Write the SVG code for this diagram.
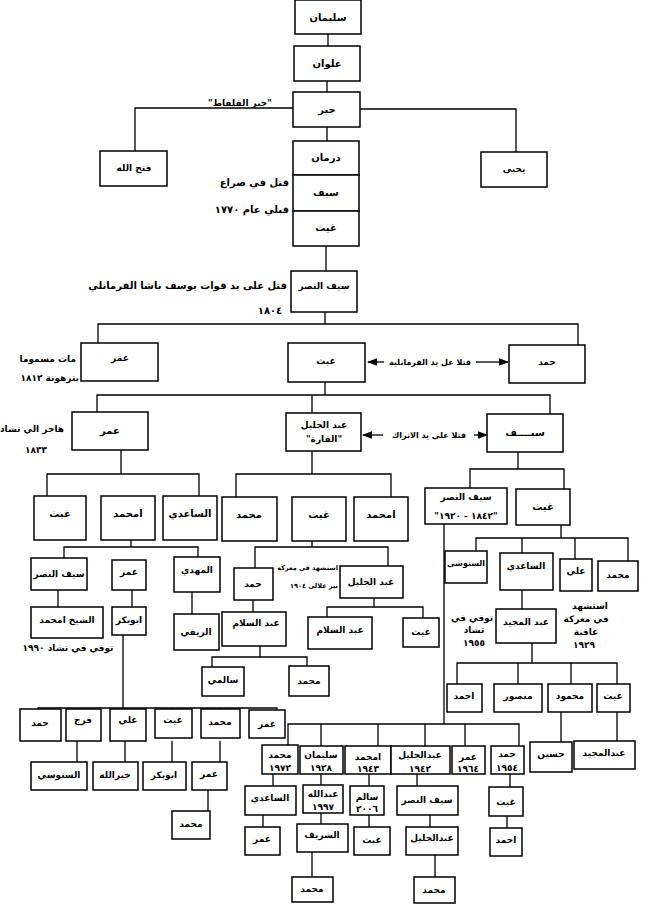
<svg xmlns="http://www.w3.org/2000/svg" width="650" height="907" viewBox="0 0 650 907">
<defs>
<style>
rect{fill:#fff;stroke:#000;stroke-width:1.5}
text{font-family:"DejaVu Sans",sans-serif;font-weight:bold;font-size:9px;fill:#000;text-anchor:middle}
.b{font-size:10px}
.e{text-anchor:end}
.s{font-size:8px}
.t{font-size:6.5px}
.c path,.c line{stroke:#000;stroke-width:1.3;fill:none}
</style>
<marker id="ar" markerWidth="8" markerHeight="6" refX="7" refY="3" orient="auto"><path d="M0,0L8,3L0,6z" fill="#000"/></marker>
</defs>
<rect x="0" y="0" width="650" height="907" style="stroke:none"/>
<g class="c">
<path d="M328,34V46M327,81V92M327,127V141M326,246V271"/>
<path d="M293,108H135V151M360,109H516V152"/>
<path d="M325,312V324M98,343V324H578V345"/>
<path d="M325,382V395M97,412V395H550V414M312,395V413"/>
<line x1="384" y1="362" x2="368" y2="362" marker-end="url(#ar)"/><line x1="476" y1="362" x2="508" y2="362" marker-end="url(#ar)"/>
<line x1="383" y1="435" x2="363" y2="435" marker-end="url(#ar)"/><line x1="474" y1="435" x2="487" y2="435" marker-end="url(#ar)"/>
<path d="M121,450V474M47,496V474H199V496"/>
<path d="M312,451V474M236,497V474H391V497"/>
<path d="M518,452V469M470,488V469H564V489"/>
<path d="M131,540V547M64,558V547H198V557M58,590V607M132,590V607M192,592V614"/>
<path d="M312,541V547M255,568V547H388V566M253,600V612M374,598V607M327,617V607H423V618"/>
<path d="M260,646V657M212,667V657H307V666"/>
<path d="M123,635V708M38,709V708H277V710M77,708V709M125,708V709M172,708V709M220,708V709"/>
<path d="M77,741V762M125,741V762M172,741V762M220,741V762M208,790V811"/>
<path d="M561,525V538M476,551V538H628V561M522,538V553M575,538V559M522,590V609"/>
<path d="M532,643V663M457,684V663H617V684M518,663V684M571,663V684M561,712V742M617,712V741"/>
<path d="M444,524V724M288,746V724H519V746M321,724V746M378,724V746M425,724V746M465,724V746"/>
<path d="M273,774V786M263,815V827M321,774V785M321,813V824M312,852V877M369,774V786M369,815V827M417,774V786M430,815V827M435,855V877M510,774V787M507,816V828"/>
</g>
<g id="n1"><rect x="295" y="0" width="66" height="34"/><text class="b" x="328" y="21">سليمان</text></g>
<g id="n2"><rect x="294" y="46" width="66" height="35"/><text class="b" x="327" y="67">علوان</text></g>
<g id="n3"><rect x="293" y="92" width="67" height="35"/><text class="b" x="327" y="113">جبر</text></g>
<text x="240" y="106">"جبر القلفاط"</text>
<g id="n4"><rect x="100" y="151" width="67" height="35"/><text x="134" y="171">فتح الله</text></g>
<g id="n5"><rect x="481" y="152" width="66" height="35"/><text x="514" y="172">يحيى</text></g>
<g id="n6"><rect x="293" y="141" width="66" height="34"/><text class="b" x="326" y="161">درمان</text></g>
<g id="n7"><rect x="293" y="175" width="66" height="36"/><text class="b" x="326" y="196">سيف</text></g>
<g id="n8"><rect x="293" y="211" width="66" height="35"/><text class="b" x="326" y="231">غيث</text></g>
<text class="b e" x="289" y="186">قتل في صراع</text>
<text class="b e" x="289" y="213">قبلي عام ١٧٧٠</text>
<g id="n9"><rect x="291" y="271" width="66" height="41"/><text x="324" y="289">سيف النصر</text></g>
<text class="b e" x="287" y="289">قتل على يد قوات يوسف باشا القرمانلي</text>
<text class="b" x="270" y="314">١٨٠٤</text>
<g id="n10"><rect x="81" y="343" width="77" height="38"/><text x="120" y="361">عمر</text></g>
<g id="n11"><rect x="288" y="343" width="77" height="39"/><text x="326" y="364">غيث</text></g>
<g id="n12"><rect x="509" y="345" width="76" height="38"/><text x="547" y="365">حمد</text></g>
<text class="s" x="430" y="365">قتلا عل يد القرمانلية</text>
<text class="e" x="76" y="362">مات مسموما</text>
<text class="e" x="79" y="381">بترهونة ١٨١٢</text>
<g id="n13"><rect x="72" y="412" width="76" height="38"/><text class="b" x="110" y="434">عمر</text></g>
<text class="e" x="64" y="432">هاجر الي تشاد</text>
<text x="36" y="453">١٨٣٣</text>
<g id="n14"><rect x="286" y="413" width="75" height="38"/><text x="324" y="428">عبد الجليل</text><text x="324" y="442">"القارة"</text></g>
<g id="n15"><rect x="487" y="414" width="76" height="38"/><text class="b" x="525" y="436">سيــــف</text></g>
<text class="s" x="429" y="438">قتلا علي يد الاتراك</text>
<g id="n16"><rect x="34" y="496" width="52" height="44"/><text class="b" x="60" y="517">غيث</text></g>
<g id="n17"><rect x="101" y="496" width="54" height="44"/><text class="b" x="128" y="517">امحمد</text></g>
<g id="n18"><rect x="163" y="496" width="54" height="44"/><text class="b" x="190" y="517">الساعدي</text></g>
<g id="n19"><rect x="222" y="497" width="55" height="44"/><text class="b" x="249" y="518">محمد</text></g>
<g id="n20"><rect x="292" y="497" width="54" height="44"/><text class="b" x="319" y="518">غيث</text></g>
<g id="n21"><rect x="354" y="497" width="54" height="44"/><text class="b" x="381" y="518">امحمد</text></g>
<g id="n22"><rect x="425" y="488" width="82" height="36"/><text x="466" y="500">سيف النصر</text><text x="466" y="519">"١٨٤٢ - ١٩٢٠"</text></g>
<g id="n23"><rect x="516" y="489" width="54" height="36"/><text class="b" x="543" y="510">غيث</text></g>
<g id="n24"><rect x="31" y="558" width="56" height="32"/><text x="59" y="577">سيف النصر</text></g>
<g id="n25"><rect x="112" y="560" width="34" height="30"/><text x="129" y="575">عمر</text></g>
<g id="n26"><rect x="174" y="557" width="46" height="35"/><text x="197" y="573">المهدي</text></g>
<g id="n27"><rect x="31" y="607" width="72" height="31"/><text x="67" y="623">الشيخ امحمد</text></g>
<text x="68" y="651">توفي في تشاد ١٩٩٠</text>
<g id="n28"><rect x="112" y="607" width="34" height="28"/><text x="129" y="623">ابوبكر</text></g>
<g id="n29"><rect x="174" y="614" width="45" height="36"/><text x="196" y="635">الريفي</text></g>
<g id="n30"><rect x="234" y="568" width="39" height="32"/><text x="253" y="587">حمد</text></g>
<g id="n31"><rect x="340" y="566" width="63" height="32"/><text x="371" y="585">عبد الجليل</text></g>
<text class="t e" x="338" y="570">استشهد في معركة</text>
<text class="t e" x="338" y="588">بير علالي ١٩٠٤</text>
<g id="n32"><rect x="222" y="612" width="64" height="34"/><text x="256" y="626">عبد السلام</text></g>
<g id="n33"><rect x="308" y="617" width="64" height="32"/><text x="340" y="633">عبد السلام</text></g>
<g id="n34"><rect x="403" y="618" width="36" height="29"/><text x="421" y="635">غيث</text></g>
<g id="n35"><rect x="202" y="667" width="42" height="29"/><text x="223" y="683">سالمي</text></g>
<g id="n36"><rect x="289" y="666" width="40" height="30"/><text x="309" y="684">محمد</text></g>
<g id="n37"><rect x="20" y="709" width="41" height="32"/><text x="40" y="726">حمد</text></g>
<g id="n38"><rect x="66" y="709" width="35" height="32"/><text x="83" y="723">فرج</text></g>
<g id="n39"><rect x="110" y="709" width="36" height="32"/><text x="128" y="723">علي</text></g>
<g id="n40"><rect x="155" y="709" width="37" height="29"/><text x="173" y="723">غيث</text></g>
<g id="n41"><rect x="201" y="709" width="39" height="29"/><text x="220" y="725">محمد</text></g>
<g id="n42"><rect x="249" y="710" width="36" height="28"/><text x="267" y="727">عمر</text></g>
<g id="n43"><rect x="31" y="762" width="56" height="28"/><text x="59" y="778">السنوسي</text></g>
<g id="n44"><rect x="93" y="762" width="45" height="28"/><text x="115" y="778">خيرالله</text></g>
<g id="n45"><rect x="143" y="762" width="43" height="28"/><text x="164" y="778">ابوبكر</text></g>
<g id="n46"><rect x="192" y="762" width="35" height="28"/><text x="209" y="777">عمر</text></g>
<g id="n47"><rect x="172" y="811" width="38" height="28"/><text x="191" y="827">محمد</text></g>
<g id="n48"><rect x="445" y="551" width="42" height="32"/><text class="s" x="466" y="566">السنوسي</text></g>
<g id="n49"><rect x="500" y="553" width="53" height="37"/><text x="526" y="569">الساعدي</text></g>
<g id="n50"><rect x="560" y="559" width="32" height="32"/><text x="576" y="574">علي</text></g>
<g id="n51"><rect x="598" y="561" width="40" height="30"/><text x="618" y="578">محمد</text></g>
<g id="n52"><rect x="496" y="609" width="60" height="34"/><text x="526" y="625">عبد المجيد</text></g>
<text x="472" y="621">توفي في</text><text x="474" y="633">تشاد</text><text x="474" y="646">١٩٥٥</text>
<text x="590" y="609">استشهد</text><text x="586" y="622">في معركة</text><text x="586" y="635">عاقبة</text><text x="584" y="648">١٩٢٩</text>
<g id="n53"><rect x="447" y="684" width="35" height="28"/><text x="464" y="699">احمد</text></g>
<g id="n54"><rect x="494" y="684" width="48" height="28"/><text x="518" y="699">منصور</text></g>
<g id="n55"><rect x="548" y="684" width="44" height="28"/><text x="570" y="699">محمود</text></g>
<g id="n56"><rect x="597" y="684" width="33" height="28"/><text x="613" y="699">غيث</text></g>
<g id="n57"><rect x="530" y="742" width="42" height="30"/><text x="551" y="757">حسين</text></g>
<g id="n58"><rect x="574" y="741" width="61" height="28"/><text x="604" y="756">عبدالمجيد</text></g>
<g id="n59"><rect x="262" y="745" width="36" height="29"/><text x="280" y="758">محمد</text><text x="280" y="771">١٩٧٢</text></g>
<g id="n60"><rect x="300" y="746" width="43" height="28"/><text x="321" y="758">سليمان</text><text x="321" y="771">١٩٢٨</text></g>
<g id="n61"><rect x="345" y="746" width="46" height="28"/><text x="368" y="760">امحمد</text><text x="368" y="772">١٩٤٣</text></g>
<g id="n62"><rect x="391" y="746" width="59" height="28"/><text x="420" y="758">عبدالجليل</text><text x="420" y="772">١٩٤٢</text></g>
<g id="n63"><rect x="452" y="746" width="33" height="28"/><text x="468" y="760">عمر</text><text x="468" y="772">١٩٦٤</text></g>
<g id="n64"><rect x="491" y="746" width="33" height="28"/><text x="507" y="757">حمد</text><text x="507" y="771">١٩٥٤</text></g>
<g id="n65"><rect x="245" y="786" width="51" height="29"/><text x="270" y="801">الساعدي</text></g>
<g id="n66"><rect x="303" y="785" width="40" height="28"/><text x="323" y="797">عبدالله</text><text x="323" y="810">١٩٩٧</text></g>
<g id="n67"><rect x="350" y="786" width="34" height="29"/><text x="367" y="800">سالم</text><text x="367" y="812">٢٠٠٦</text></g>
<g id="n68"><rect x="397" y="786" width="61" height="29"/><text x="427" y="803">سيف النصر</text></g>
<g id="n69"><rect x="489" y="787" width="34" height="29"/><text x="506" y="805">غيث</text></g>
<g id="n70"><rect x="245" y="827" width="35" height="28"/><text x="262" y="842">عمر</text></g>
<g id="n71"><rect x="297" y="824" width="51" height="28"/><text x="322" y="838">الشريف</text></g>
<g id="n72"><rect x="354" y="827" width="36" height="28"/><text x="372" y="843">غيث</text></g>
<g id="n73"><rect x="406" y="827" width="52" height="28"/><text x="432" y="841">عبدالجليل</text></g>
<g id="n74"><rect x="490" y="828" width="32" height="28"/><text x="506" y="843">احمد</text></g>
<g id="n75"><rect x="292" y="877" width="41" height="25"/><text x="312" y="892">محمد</text></g>
<g id="n76"><rect x="414" y="877" width="41" height="26"/><text x="434" y="893">محمد</text></g>
</svg>
